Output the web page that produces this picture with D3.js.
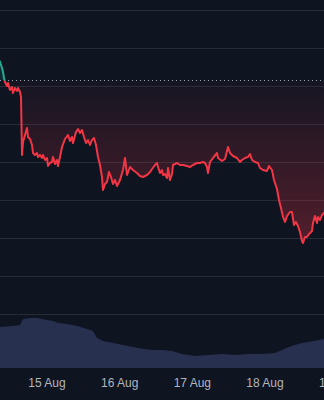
<!DOCTYPE html>
<html>
<head>
<meta charset="utf-8">
<script src="https://cdn.jsdelivr.net/npm/d3@7"></script>
<style>
    html, body { margin: 0; padding: 0; background: #0f1421; overflow: hidden; }
    svg { display: block; }
</style>
</head>
<body>
<div id="chart"></div>
<script>
// price line: hours since 14 Aug 00:00 and price
var priceHours = [7.98, 8.64, 8.97, 9.30, 9.63, 9.96, 10.29, 10.62, 10.95, 11.28, 11.94, 12.60, 12.93, 13.59, 14.26, 14.59, 15.25, 15.58, 15.91,
    16.24, 16.90, 17.56, 17.89, 18.55, 19.21, 19.54, 20.20, 20.86, 21.19, 21.85, 22.51, 22.84, 23.50, 24.16, 24.49, 25.16, 25.82, 26.15,
    26.81, 27.47, 27.80, 28.46, 29.12, 30.11, 31.10, 31.76, 32.42, 32.75, 33.74, 34.40, 35.06, 35.72, 36.39, 37.05, 37.71, 38.37, 39.03,
    39.69, 40.35, 41.01, 41.67, 42.33, 42.66, 43.32, 43.98, 44.64, 45.30, 45.96, 46.62, 47.29, 48.28, 49.27, 49.93, 50.59, 51.58, 52.57,
    53.89, 54.88, 55.87, 57.19, 58.19, 58.85, 59.84, 60.50, 60.83, 61.49, 62.15, 62.48, 63.14, 63.80, 64.13, 64.79, 65.45, 65.78, 67.10,
    68.09, 69.08, 70.41, 71.40, 72.39, 73.71, 74.70, 75.69, 76.35, 77.01, 77.34, 78.00, 78.99, 80.32, 80.65, 81.97, 82.96, 83.95, 84.61,
    85.60, 86.92, 87.91, 88.57, 89.56, 90.55, 91.22, 91.88, 92.87, 93.86, 94.52, 95.51, 96.83, 97.49, 98.48, 99.14, 100.13, 100.79, 101.45,
    102.12, 102.78, 103.44, 104.43, 105.09, 105.75, 106.41, 107.07, 107.73, 108.39, 108.72, 109.38, 110.04, 110.70, 111.69, 112.02, 112.68,
    113.35, 113.68, 114.34, 115.00, 115.66, 116.32];
var priceValues = [74.2, 73.8, 73.5, 73.2, 72.8, 72.2, 71.8, 71.6, 71.4, 71.7, 71.0, 71.3, 70.7, 71.2, 70.9, 71.2, 70.8, 70.3, 64.5,
    65.8, 66.5, 67.2, 66.3, 66.1, 65.5, 64.7, 64.5, 64.7, 64.3, 64.5, 64.2, 64.5, 64.0, 64.2, 63.4, 63.7, 63.8, 64.3,
    63.6, 64.0, 63.4, 64.3, 65.3, 66.1, 66.5, 65.9, 66.3, 65.7, 66.8, 67.1, 66.7, 67.0, 66.3, 65.7, 66.0, 65.5, 66.0,
    66.2, 65.5, 64.3, 63.5, 62.3, 61.0, 61.6, 61.8, 62.8, 62.3, 61.6, 62.0, 61.4, 62.0, 63.0, 64.2, 62.5, 63.3, 63.0,
    62.7, 62.4, 62.3, 62.5, 62.8, 63.1, 63.5, 63.7, 63.3, 62.7, 63.0, 62.5, 62.6, 62.2, 63.2, 62.0, 62.6, 63.5, 63.7,
    63.5, 63.5, 63.4, 63.3, 63.5, 63.7, 63.7, 63.8, 63.7, 63.3, 62.7, 63.8, 64.2, 64.7, 64.2, 63.9, 64.1, 65.3, 64.7,
    64.4, 64.2, 63.8, 64.0, 64.2, 64.3, 64.6, 64.0, 63.8, 63.7, 63.2, 63.0, 62.9, 63.4, 63.0, 62.0, 61.1, 60.0, 59.2,
    58.3, 57.8, 58.4, 58.8, 58.8, 57.5, 57.8, 57.4, 56.8, 55.9, 55.7, 56.3, 56.3, 56.6, 56.9, 57.7, 58.4,
    57.7, 58.3, 58.0, 58.5, 58.7, 58.8];

// volume area: hours since 14 Aug 00:00 and volume
var volumeHours = [7.98, 8.64, 12.93, 15.25, 16.24, 18.55, 20.86, 22.51, 24.16, 26.15, 27.80, 30.77, 34.07, 37.38, 39.36, 40.68, 42.66,
    45.96, 49.27, 52.57, 55.87, 59.18, 62.15, 65.45, 68.75, 73.05, 77.67, 81.97, 86.26, 90.88, 95.18, 99.47, 101.78, 104.10, 106.08,
    108.39, 110.70, 113.99, 115.66, 116.32];
var volumeValues = [41, 41, 42, 43, 49, 50, 50, 49, 48, 47, 45, 44, 42, 39, 37, 30, 27,
    25, 23, 21, 19, 18, 18, 17, 14, 12, 13, 14, 13, 14, 14, 15, 18, 21, 23,
    25, 26, 28, 29, 29];

var baselinePrice = 71.95;
var gridPrices = [79, 75.2, 71.4, 67.6, 63.8, 60, 56.2, 52.4, 48.6];
var tickDates = ["2024-08-15", "2024-08-16", "2024-08-17", "2024-08-18", "2024-08-19"];

var width = 324, height = 400;
var startDate = new Date(2024, 7, 14);

function toDate(h) {
    return new Date(startDate.getTime() + h * 3600 * 1000);
}

function init() {
    var svg = d3.select("#chart").append("svg")
        .attr("width", width)
        .attr("height", height);

    svg.append("rect")
        .attr("width", width)
        .attr("height", height)
        .attr("fill", "#0f1421");

    var x = d3.scaleTime()
        .domain([toDate(8.64), toDate(115.66)])
        .range([0, width]);

    var y = d3.scaleLinear()
        .domain([40, 80])
        .range([400, 0]);

    var yVol = d3.scaleLinear()
        .domain([0, 50])
        .range([368, 318]);

    var prices = priceHours.map(function (h, i) { return {date: toDate(h), value: priceValues[i]}; });
    var volumes = volumeHours.map(function (h, i) { return {date: toDate(h), value: volumeValues[i]}; });
    var base = y(baselinePrice);

    // horizontal grid
    svg.append("g")
        .selectAll("line")
        .data(gridPrices)
        .enter().append("line")
        .attr("x1", 0)
        .attr("x2", width)
        .attr("y1", function (d) { return Math.round(y(d)) + 0.5; })
        .attr("y2", function (d) { return Math.round(y(d)) + 0.5; })
        .attr("stroke", "#262b38")
        .attr("stroke-width", 1);

    // volume
    svg.append("path")
        .datum(volumes)
        .attr("d", d3.area()
            .x(function (d) { return x(d.date); })
            .y0(yVol(0))
            .y1(function (d) { return yVol(d.value); }))
        .attr("fill", "#283050");

    // clip areas above / below baseline
    var defs = svg.append("defs");
    defs.append("clipPath").attr("id", "above")
        .append("rect").attr("x", 0).attr("y", 0).attr("width", width).attr("height", base);
    defs.append("clipPath").attr("id", "below")
        .append("rect").attr("x", 0).attr("y", base).attr("width", width).attr("height", 318 - base);

    var grad = defs.append("linearGradient")
        .attr("id", "redFill")
        .attr("gradientUnits", "userSpaceOnUse")
        .attr("x1", 0).attr("x2", 0)
        .attr("y1", base).attr("y2", y(55.5));
    grad.append("stop").attr("offset", 0).attr("stop-color", "#f23645").attr("stop-opacity", 0.03);
    grad.append("stop").attr("offset", 1).attr("stop-color", "#f23645").attr("stop-opacity", 0.3);

    var area = d3.area()
        .x(function (d) { return x(d.date); })
        .y0(base)
        .y1(function (d) { return y(d.value); });

    svg.append("path")
        .datum(prices)
        .attr("d", area)
        .attr("clip-path", "url(#below)")
        .attr("fill", "url(#redFill)");

    svg.append("path")
        .datum(prices)
        .attr("d", area)
        .attr("clip-path", "url(#above)")
        .attr("fill", "#22ab94")
        .attr("fill-opacity", 0.15);

    // baseline
    svg.append("line")
        .attr("x1", 0)
        .attr("x2", width)
        .attr("y1", Math.round(base) + 0.5)
        .attr("y2", Math.round(base) + 0.5)
        .attr("stroke", "#9aa0ad")
        .attr("stroke-width", 1)
        .attr("stroke-dasharray", "1,3");

    var line = d3.line()
        .x(function (d) { return x(d.date); })
        .y(function (d) { return y(d.value); });

    svg.append("path")
        .datum(prices)
        .attr("d", line)
        .attr("clip-path", "url(#below)")
        .attr("fill", "none")
        .attr("stroke", "#f23645")
        .attr("stroke-width", 2)
        .attr("stroke-linejoin", "round");

    svg.append("path")
        .datum(prices)
        .attr("d", line)
        .attr("clip-path", "url(#above)")
        .attr("fill", "none")
        .attr("stroke", "#22ab94")
        .attr("stroke-width", 2)
        .attr("stroke-linejoin", "round");

    // time axis
    var xAxis = svg.append("g")
        .attr("transform", "translate(0," + 368 + ")")
        .call(d3.axisBottom(x)
            .tickValues(tickDates.map(function (d) { return d3.timeParse("%Y-%m-%d")(d); }))
            .tickFormat(d3.timeFormat("%-d %b"))
            .tickSize(0)
            .tickPadding(10));
    xAxis.select(".domain").remove();
    xAxis.selectAll("text")
        .attr("fill", "#b2b5be")
        .style("font-family", "'Liberation Sans', Arial, sans-serif")
        .style("font-size", "12px");
}

init();
</script>
</body>
</html>
